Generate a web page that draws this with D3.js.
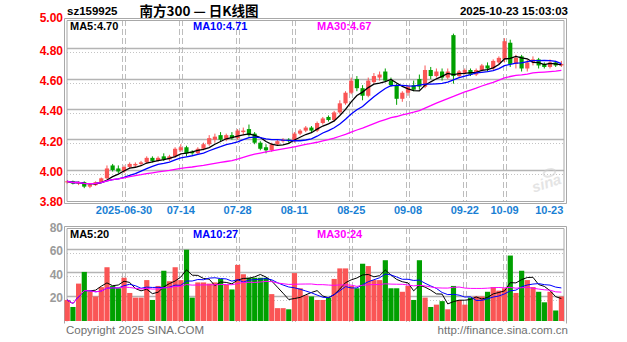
<!DOCTYPE html>
<html><head><meta charset="utf-8">
<script src="https://cdn.jsdelivr.net/npm/d3@7/dist/d3.min.js"></script>
<style>body{margin:0;background:#fff;}svg{display:block;font-family:"Liberation Sans",Arial,sans-serif;}</style>
</head><body>
<svg id="chart" width="627" height="342"></svg>
<script>
// ---------- data ----------
const dates = [
"2025-06-16","2025-06-17","2025-06-18","2025-06-19","2025-06-20","2025-06-23","2025-06-24","2025-06-25","2025-06-26","2025-06-27","2025-06-30",
"2025-07-01","2025-07-02","2025-07-03","2025-07-04","2025-07-07","2025-07-08","2025-07-09","2025-07-10","2025-07-11","2025-07-14","2025-07-15","2025-07-16","2025-07-17","2025-07-18","2025-07-21","2025-07-22","2025-07-23","2025-07-24","2025-07-25","2025-07-28","2025-07-29","2025-07-30","2025-07-31",
"2025-08-01","2025-08-04","2025-08-05","2025-08-06","2025-08-07","2025-08-08","2025-08-11","2025-08-12","2025-08-13","2025-08-14","2025-08-15","2025-08-18","2025-08-19","2025-08-20","2025-08-21","2025-08-22","2025-08-25","2025-08-26","2025-08-27","2025-08-28","2025-08-29",
"2025-09-01","2025-09-02","2025-09-03","2025-09-04","2025-09-05","2025-09-08","2025-09-09","2025-09-10","2025-09-11","2025-09-12","2025-09-15","2025-09-16","2025-09-17","2025-09-18","2025-09-19","2025-09-22","2025-09-23","2025-09-24","2025-09-25","2025-09-26","2025-09-29","2025-09-30",
"2025-10-09","2025-10-10","2025-10-13","2025-10-14","2025-10-15","2025-10-16","2025-10-17","2025-10-20","2025-10-21","2025-10-22","2025-10-23"];

const open = [
3.93,3.935,3.92,3.93,3.90,3.91,3.93,3.955,4.04,4.02,
4.00,4.03,4.04,4.05,4.06,4.09,4.07,4.10,4.08,4.10,
4.14,4.16,4.13,4.12,4.15,4.18,4.21,4.24,4.21,4.24,
4.22,4.26,4.28,4.25,4.19,4.16,4.14,4.18,4.20,4.21,
4.20,4.25,4.27,4.29,4.27,4.32,4.36,4.34,4.39,4.45,
4.52,4.61,4.55,4.50,4.59,4.62,4.66,4.60,4.57,4.48,
4.52,4.57,4.61,4.56,4.67,4.63,4.66,4.62,4.90,4.63,
4.65,4.67,4.64,4.67,4.70,4.68,4.72,4.74,4.85,4.71,
4.76,4.68,4.72,4.74,4.71,4.69,4.72,4.70];
const high = [
3.94,3.94,3.935,3.935,3.92,3.935,3.96,4.04,4.05,4.04,
4.04,4.06,4.06,4.07,4.10,4.10,4.10,4.12,4.11,4.16,
4.18,4.17,4.14,4.16,4.19,4.24,4.25,4.26,4.25,4.26,
4.28,4.29,4.31,4.26,4.20,4.18,4.19,4.21,4.22,4.22,
4.26,4.28,4.30,4.30,4.33,4.36,4.37,4.40,4.47,4.53,
4.62,4.63,4.57,4.62,4.65,4.66,4.68,4.62,4.58,4.53,
4.57,4.60,4.64,4.70,4.69,4.68,4.68,4.68,4.91,4.67,
4.68,4.68,4.68,4.71,4.72,4.74,4.76,4.88,4.87,4.77,
4.77,4.74,4.76,4.75,4.72,4.74,4.73,4.73];
const low = [
3.92,3.915,3.91,3.89,3.89,3.905,3.925,3.95,4.00,3.99,
3.99,4.02,4.03,4.04,4.05,4.06,4.065,4.07,4.07,4.09,
4.13,4.10,4.11,4.11,4.14,4.17,4.19,4.20,4.20,4.21,
4.21,4.24,4.23,4.18,4.14,4.12,4.13,4.17,4.19,4.19,
4.19,4.24,4.26,4.26,4.26,4.31,4.33,4.33,4.38,4.44,
4.51,4.53,4.47,4.49,4.58,4.60,4.59,4.56,4.44,4.46,
4.50,4.53,4.54,4.55,4.61,4.62,4.60,4.61,4.58,4.62,
4.64,4.63,4.63,4.66,4.66,4.67,4.71,4.72,4.69,4.68,
4.66,4.66,4.70,4.68,4.68,4.68,4.69,4.69];
const close = [
3.935,3.92,3.93,3.90,3.915,3.93,3.955,4.02,4.01,4.00,
4.03,4.05,4.05,4.06,4.09,4.07,4.09,4.08,4.10,4.15,
4.16,4.12,4.12,4.15,4.18,4.22,4.23,4.21,4.24,4.22,
4.27,4.27,4.24,4.19,4.15,4.14,4.18,4.20,4.21,4.20,
4.25,4.27,4.29,4.27,4.32,4.35,4.34,4.39,4.45,4.52,
4.60,4.55,4.50,4.60,4.63,4.64,4.60,4.57,4.48,4.52,
4.56,4.54,4.56,4.67,4.63,4.66,4.62,4.66,4.63,4.66,
4.67,4.64,4.67,4.70,4.68,4.73,4.75,4.86,4.71,4.75,
4.68,4.72,4.74,4.70,4.69,4.72,4.70,4.71];
const volume = [
18,12,32,42,25,21,29,46,30,28,
37,24,20,20,35,18,30,43,34,46,
35,61,20,33,33,32,33,36,31,27,
48,40,37,37,37,37,23,11,11,10,
41,28,22,21,18,18,20,36,45,45,
30,28,49,47,35,35,52,28,28,25,
30,18,52,20,12,14,17,10,30,18,
14,20,21,21,25,29,26,28,56,24,
43,35,29,25,16,25,9,21];

const priceTicks = [3.8,4.0,4.2,4.4,4.6,4.8,5.0];
const volumeTicks = [20,40,60,80];
const dateTicks = ["2025-06-30","2025-07-14","2025-07-28","2025-08-11","2025-08-25","2025-09-08","2025-09-22","2025-10-09","2025-10-23"];
const dateTickLabels = ["2025-06-30","07-14","07-28","08-11","08-25","09-08","09-22","10-09","10-23"];
const maPeriods = [5,10,30];
const maColors = ["#000000","#0000ff","#ff00ff"];
const priceMaLabels = ["MA5:4.70","MA10:4.71","MA30:4.67"];
const volumeMaLabels = ["MA5:20","MA10:27","MA30:24"];
const symbolText = "sz159925";
const titleText = "南方300 — 日K线图";
const timeText = "2025-10-23 15:03:03";
const copyrightText = "Copyright 2025 SINA.COM";
const urlText = "http://finance.sina.com.cn";

// ---------- layout ----------
const UP = "#fa5555", DOWN = "#00a000", GRID = "#b4b4b4";
const L = 65, R = 566;
const svg = d3.select("#chart");
const x = d3.scaleBand().domain(dates).range([64.36, 564.2]).paddingInner(0).paddingOuter(0);
const xc = d => x(d) + x.bandwidth()/2;
const yP = d3.scaleLinear().domain([3.8, 5.0]).range([201.8, 20]);
const yV = d3.scaleLinear().domain([0, 80]).range([321, 227.5]);

function ma(arr, n){ return arr.map((d,i)=> d3.mean(arr.slice(Math.max(0,i-n+1), i+1))); }

// ---------- grids ----------
function frame(top, bottom, withBottom){
  const g = svg.append("g").attr("fill","none").attr("stroke","#a8a8a8").attr("stroke-width",1);
  [[L-0.5, top-1.5, R+0.5, bottom+1.5],[L+2, top+0.5, R-2, bottom-0.5]].forEach(([x0,y0,x1,y1])=>{
    g.append("line").attr("x1",x0).attr("x2",x1).attr("y1",y0).attr("y2",y0);
    g.append("line").attr("x1",x0).attr("x2",x0).attr("y1",y0).attr("y2",y1);
    g.append("line").attr("x1",x1).attr("x2",x1).attr("y1",y0).attr("y2",y1);
    if(withBottom) g.append("line").attr("x1",x0).attr("x2",x1).attr("y1",y1).attr("y2",y1);
  });
}
function hgrid(scale, ticks, top){
  const g = svg.append("g");
  ticks.forEach(t=>{
    const yy = Math.round(scale(t));
    if (Math.abs(yy-top) < 3) return;
    g.append("line").attr("x1",L+2).attr("x2",R-2).attr("y1",yy-1.5).attr("y2",yy-1.5)
      .attr("stroke",GRID).attr("stroke-width",1.6);
    g.append("line").attr("x1",L+2).attr("x2",R-2).attr("y1",yy+2.5).attr("y2",yy+2.5)
      .attr("stroke","#c4c4c4").attr("stroke-width",1).attr("stroke-dasharray","1,2");
  });
}
function vgrid(top, bottom){
  const g = svg.append("g").attr("stroke","#bdbdbd").attr("stroke-width",1).attr("stroke-dasharray","6,3");
  dateTicks.slice(0,-1).forEach(d=>{
    const xx = Math.round(xc(d));
    g.append("line").attr("x1",xx-1.5).attr("x2",xx-1.5).attr("y1",top).attr("y2",bottom);
    g.append("line").attr("x1",xx+1.5).attr("x2",xx+1.5).attr("y1",top).attr("y2",bottom);
  });
}
vgrid(20, 202);
hgrid(yP, priceTicks.filter(t=>t>3.8 && t<5.0), 20);
frame(20, 202, true);
vgrid(228, 322);
hgrid(yV, volumeTicks.filter(t=>t<80), 228);
frame(228, 322, false);

// watermark
const wm = svg.append("g").attr("transform","translate(548,188) rotate(-18)").attr("opacity",0.55);
wm.append("text").attr("text-anchor","middle").attr("font-size",15).attr("font-weight","bold")
  .attr("font-style","italic").attr("fill","#cfcfcf").text("sina");
wm.append("ellipse").attr("cx",6).attr("cy",-14).attr("rx",6).attr("ry",3.5).attr("fill","none")
  .attr("stroke","#d0d0d0").attr("stroke-width",2);

// ---------- candles ----------
const cg = svg.append("g");
dates.forEach((d,i)=>{
  const up = close[i] >= open[i];
  const col = up ? UP : DOWN;
  const cx = xc(d);
  cg.append("line").attr("x1",cx).attr("x2",cx).attr("y1",yP(high[i])).attr("y2",yP(low[i]))
    .attr("stroke",col).attr("stroke-width",1);
  const y0 = yP(Math.max(open[i],close[i])), y1 = yP(Math.min(open[i],close[i]));
  cg.append("rect").attr("x",cx-2.1).attr("width",4.2).attr("y",y0).attr("height",Math.max(1,y1-y0)).attr("fill",col);
});

// price MAs
const clipP = svg.append("clipPath").attr("id","cp").append("rect").attr("x",L).attr("y",20).attr("width",R-L).attr("height",182);
maPeriods.forEach((n,k)=>{
  const m = ma(close, n);
  svg.append("path").datum(m).attr("clip-path","url(#cp)")
    .attr("d", d3.line().x((v,i)=>xc(dates[i])).y(v=>yP(v)))
    .attr("fill","none").attr("stroke",maColors[k]).attr("stroke-width",1.3);
});

// ---------- volume ----------
const vg = svg.append("g");
dates.forEach((d,i)=>{
  const col = close[i] >= open[i] ? UP : DOWN;
  vg.append("rect").attr("x",x(d)+0.3).attr("width",x.bandwidth()-0.5)
    .attr("y",yV(volume[i])).attr("height",yV(0)-yV(volume[i])).attr("fill",col);
});
maPeriods.forEach((n,k)=>{
  const m = ma(volume, n);
  svg.append("path").datum(m)
    .attr("d", d3.line().x((v,i)=>xc(dates[i])).y(v=>yV(v)))
    .attr("fill","none").attr("stroke",maColors[k]).attr("stroke-width",1);
});

// ---------- axes ----------
const pAxis = svg.append("g").attr("transform","translate(64,0)")
  .call(d3.axisLeft(yP).tickValues(priceTicks).tickSize(0).tickPadding(1).tickFormat(d3.format(".2f")));
pAxis.select(".domain").remove();
pAxis.selectAll("text").attr("fill","#ff0000").attr("font-size",12).attr("font-weight","bold")
  .attr("font-family","Liberation Sans, Arial, sans-serif")
  .attr("dy",(d)=> d===5.0 ? "0.1em" : "0.32em");

const vAxis = svg.append("g").attr("transform","translate(64,0)")
  .call(d3.axisLeft(yV).tickValues(volumeTicks).tickSize(0).tickPadding(1));
vAxis.select(".domain").remove();
vAxis.selectAll("text").attr("fill","#9a9a9a").attr("font-size",12).attr("font-weight","bold")
  .attr("font-family","Liberation Sans, Arial, sans-serif");

const xAxis = svg.append("g").attr("transform","translate(0,203)")
  .call(d3.axisBottom(x).tickValues(dateTicks).tickSize(0).tickPadding(3)
    .tickFormat(d=>dateTickLabels[dateTicks.indexOf(d)]));
xAxis.select(".domain").remove();
xAxis.selectAll("text").attr("fill","#1a7fd4").attr("font-size",11).attr("font-weight","bold")
  .attr("font-family","Liberation Sans, Arial, sans-serif")
  .attr("text-anchor",(d,i)=> i===dateTicks.length-1 ? "end" : "middle")
  .attr("dx",(d,i)=> i===dateTicks.length-1 ? "2" : "0");

// ---------- labels ----------
const T = (txt, xx, yy, opts={}) => svg.append("text").attr("x",xx).attr("y",yy)
  .attr("font-size",opts.size||11).attr("font-weight",opts.weight||"bold")
  .attr("fill",opts.fill||"#000").attr("text-anchor",opts.anchor||"start")
  .attr("font-family",opts.family||"Liberation Sans, Arial, sans-serif").text(txt);
T(symbolText, 67, 15, {size:11.5});
T(titleText, 199, 16, {size:13.5, anchor:"middle", family:"Noto Sans CJK SC, sans-serif"});
T(timeText, 568, 15, {size:11.5, anchor:"end"});
const maX = [70, 193, 317];
priceMaLabels.forEach((t,k)=>T(t, maX[k], 30, {size:11, fill:maColors[k]}));
volumeMaLabels.forEach((t,k)=>T(t, maX[k], 238, {size:11, fill:maColors[k]}));
T(copyrightText, 66, 334, {size:11.5, weight:"normal", fill:"#707070"});
T(urlText, 568, 334, {size:11.5, weight:"normal", fill:"#707070", anchor:"end"});
</script>
</body></html>
